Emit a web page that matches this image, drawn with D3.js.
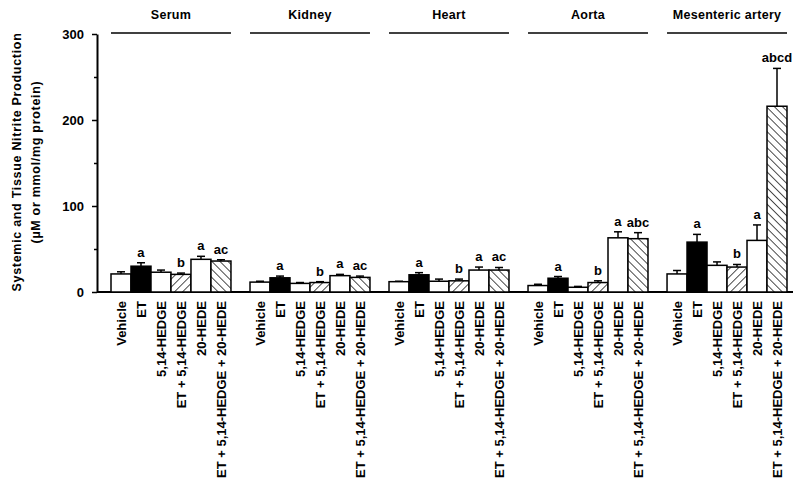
<!DOCTYPE html>
<html><head><meta charset="utf-8">
<script src="https://cdn.jsdelivr.net/npm/d3@7"></script>
<style>
body{margin:0;background:#fff;}
svg{font-family:"Liberation Sans",Arial,Helvetica,sans-serif;font-weight:bold;}
</style></head>
<body><svg id="c" width="800" height="491"></svg>
<script>
const groups = ["Serum","Kidney","Heart","Aorta","Mesenteric artery"];
const treatments = ["Vehicle","ET","5,14-HEDGE","ET + 5,14-HEDGE","20-HEDE","ET + 5,14-HEDGE + 20-HEDE"];
const fills = ["white","black","white","hatchF","white","hatchB"];
const serumV = [21,30,23,20.5,38,36];
const serumE = [2.5,4,2.5,1.5,3.5,1.5];
const kidneyV = [11.5,16.5,10,11,19,17];
const kidneyE = [1,2,1,1,1.5,1.5];
const heartV = [12,20,12.5,13,25.5,25.5];
const heartE = [0.5,2.5,2.5,2,3.5,3];
const aortaV = [7.5,16,5.5,11,63,62];
const aortaE = [1.5,2,1,2,7,7];
const mesV = [21,58,31,29,60,216];
const mesE = [4,9,4,3,18,44];
const serumL = ["","a","","b","a","ac"];
const kidneyL = ["","a","","b","a","ac"];
const heartL = ["","a","","b","a","ac"];
const aortaL = ["","a","","b","a","abc"];
const mesL = ["","a","","b","a","abcd"];
const yTicks = [0,100,200,300];
const yMinor = [50,150,250];

const values = [serumV,kidneyV,heartV,aortaV,mesV];
const errors = [serumE,kidneyE,heartE,aortaE,mesE];
const letters = [serumL,kidneyL,heartL,aortaL,mesL];

const svg = d3.select("#c");
const defs = svg.append("defs");
function hatch(id, angle){
  const p = defs.append("pattern").attr("id",id).attr("patternUnits","userSpaceOnUse")
    .attr("width",5.7).attr("height",10).attr("patternTransform",`rotate(${angle})`);
  p.append("rect").attr("width",5.7).attr("height",10).attr("fill","white");
  p.append("line").attr("x1",0).attr("y1",-1).attr("x2",0).attr("y2",11)
    .attr("stroke","black").attr("stroke-width",1.4);
}
hatch("hatchF",45);
hatch("hatchB",-45);

const y = d3.scaleLinear().domain([0,300]).range([292,34]);
const x0 = d3.scaleBand().domain(groups).range([111,787]).paddingInner(0.137).paddingOuter(0);
const x1 = d3.scaleBand().domain(treatments).range([0,x0.bandwidth()]).padding(0);

// y axis
const yAxis = svg.append("g").attr("transform","translate(97,0)")
  .call(d3.axisLeft(y).tickValues(yTicks).tickSize(5).tickSizeOuter(0).tickPadding(8));
yAxis.select(".domain").attr("stroke-width",2);
yAxis.selectAll(".tick line").attr("stroke-width",1.5);
yAxis.selectAll("text").attr("font-size",13).attr("font-weight","bold").attr("font-family","Liberation Sans, Arial, sans-serif").attr("fill","#000");
const yMin = svg.append("g").attr("transform","translate(97,0)")
  .call(d3.axisLeft(y).tickValues(yMinor).tickSize(3).tickFormat(""));
yMin.select(".domain").remove();
yMin.selectAll(".tick line").attr("stroke-width",1.5);

// baseline
svg.append("line").attr("x1",97).attr("x2",793).attr("y1",y(0)).attr("y2",y(0))
  .attr("stroke","black").attr("stroke-width",2);

// y label
const yl = svg.append("text").attr("transform","translate(21,162) rotate(-90)")
  .attr("text-anchor","middle").attr("font-size",12.5).attr("letter-spacing",0.7);
yl.append("tspan").attr("x",0).attr("dy",0).text("Systemic and Tissue Nitrite Production");
yl.append("tspan").attr("x",0).attr("dy",18.5).text("(µM or mmol/mg protein)");

groups.forEach((gname,gi)=>{
  const g = svg.append("g").attr("transform",`translate(${x0(gname)},0)`);
  g.append("text").attr("x",x0.bandwidth()/2).attr("y",19).attr("text-anchor","middle")
    .attr("font-size",12.5).attr("letter-spacing",0.3).text(gname);
  g.append("line").attr("x1",0).attr("x2",x0.bandwidth()).attr("y1",33).attr("y2",33)
    .attr("stroke","black").attr("stroke-width",1.5);
  const data = treatments.map((t,i)=>({t, v:values[gi][i], e:errors[gi][i], l:letters[gi][i], f:fills[i]}));
  const eb = g.selectAll(".eb").data(data).join("g");
  eb.append("line").attr("x1",d=>x1(d.t)+x1.bandwidth()/2).attr("x2",d=>x1(d.t)+x1.bandwidth()/2)
    .attr("y1",d=>y(d.v)).attr("y2",d=>y(d.v+d.e)).attr("stroke","black").attr("stroke-width",1.5);
  eb.append("line").attr("x1",d=>x1(d.t)+x1.bandwidth()/2-4).attr("x2",d=>x1(d.t)+x1.bandwidth()/2+4)
    .attr("y1",d=>y(d.v+d.e)).attr("y2",d=>y(d.v+d.e)).attr("stroke","black").attr("stroke-width",1.5);
  g.selectAll("rect.bar").data(data).join("rect").attr("class","bar")
    .attr("x",d=>x1(d.t)).attr("width",x1.bandwidth())
    .attr("y",d=>y(d.v)).attr("height",d=>y(0)-y(d.v))
    .attr("fill",d=>d.f.startsWith("hatch")?`url(#${d.f})`:d.f)
    .attr("stroke","black").attr("stroke-width",1.5);
  g.selectAll("text.lt").data(data.filter(d=>d.l)).join("text").attr("class","lt")
    .attr("x",d=>x1(d.t)+x1.bandwidth()/2).attr("y",d=>y(d.v+d.e)-6)
    .attr("text-anchor","middle").attr("font-size",13).text(d=>d.l);
  const xa = g.append("g").attr("transform",`translate(0,${y(0)})`)
    .call(d3.axisBottom(x1).tickSize(0).tickPadding(0));
  xa.select(".domain").remove();
  xa.selectAll("text").attr("font-size",13).attr("font-weight","bold")
    .attr("font-family","Liberation Sans, Arial, sans-serif").attr("fill","#000")
    .attr("text-anchor","end").attr("transform","rotate(-90)")
    .attr("x",-9).attr("y",0).attr("dy","0.35em");
});
</script></body></html>
